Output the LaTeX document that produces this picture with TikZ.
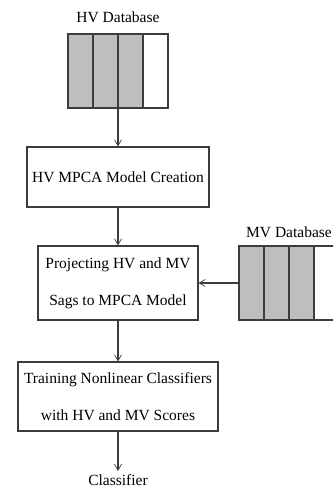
\documentclass[tikz,border=0pt]{standalone}
\usepackage{fontspec}
\setmainfont{Liberation Serif}
\usetikzlibrary{arrows.meta}
\definecolor{linec}{RGB}{60,60,60}
\definecolor{cellc}{RGB}{190,190,190}
\begin{document}
\begin{tikzpicture}[x=1pt,y=-1pt,
  txt/.style={font=\fontsize{15.5}{37}\selectfont, text=black},
  box/.style={txt, draw=linec, line width=1.1pt, fill=white, inner sep=0pt, align=center},
  cell/.style={draw=linec, line width=1.1pt, fill=cellc, minimum width=25pt, minimum height=74pt, inner sep=0pt, outer sep=0pt},
  ecell/.style={cell, fill=white},
  arr/.style={draw=linec, line width=1.1pt, -{Straight Barb[length=6pt,width=7pt,line width=0.7pt]}}
]
\useasboundingbox (0,0) rectangle (333,489);
\clip (0,0) rectangle (333,489);
% HV database
\node[txt] (hvlab) at (118,17) {HV Database};
\node[cell]  (hv1) at (80.5,71) {};
\node[cell]  (hv2) at (105.5,71) {};
\node[cell]  (hv3) at (130.5,71) {};
\node[ecell] (hv4) at (155.5,71) {};
% process boxes
\node[box, minimum width=182pt, minimum height=60pt] (b1) at (118,177) {HV MPCA Model Creation};
\node[box, minimum width=160pt, minimum height=74pt] (b2) at (118,283) {Projecting HV and MV\\Sags to MPCA Model};
\node[box, minimum width=200pt, minimum height=69pt] (b3) at (118,396.5) {Training Nonlinear Classifiers\\with HV and MV Scores};
\node[txt] (cls) at (118,480) {Classifier};
% MV database
\node[txt] (mvlab) at (289,232) {MV Database};
\node[cell]  (mv1) at (251.5,283) {};
\node[cell]  (mv2) at (276.5,283) {};
\node[cell]  (mv3) at (301.5,283) {};
\node[ecell] (mv4) at (326.5,283) {};
% connectors
\draw[arr] (hv2.south east) -- (b1.north);
\draw[arr] (b1.south) -- (b2.north);
\draw[arr] (mv1.west) -- (b2.east);
\draw[arr] (b2.south) -- (b3.north);
\draw[arr] (b3.south) -- (cls.north);
\end{tikzpicture}
\end{document}
